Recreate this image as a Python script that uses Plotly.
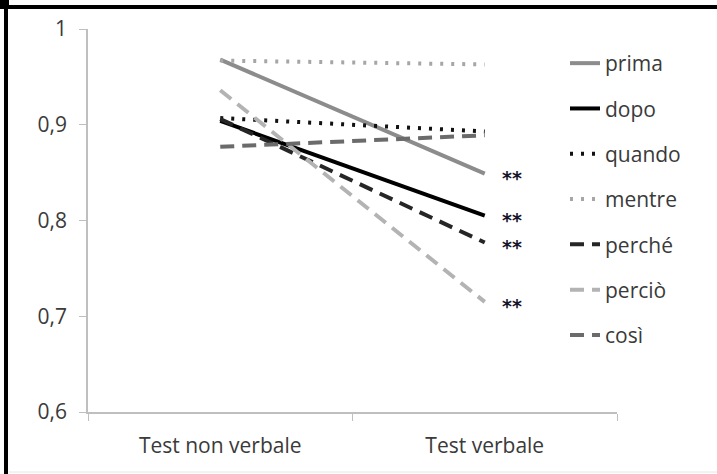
import plotly.graph_objects as go

categories = ["Test non verbale", "Test verbale"]
series_names = ["prima", "dopo", "quando", "mentre", "perché", "perciò", "così"]
nonverbal = [0.968, 0.904, 0.907, 0.967, 0.906, 0.936, 0.877]
verbal = [0.849, 0.805, 0.893, 0.963, 0.777, 0.715, 0.889]
significant = [True, True, False, False, True, True, False]

colors = ["#8c8c8c", "#000000", "#111111", "#a6a6a6", "#262626", "#b3b3b3", "#6b6b6b"]
dashes = ["solid", "solid", "3px,8px", "3px,8px", "14px,8px", "14px,8px", "14px,8px"]

W, H = 717, 474
L, R, T, B = 88, 100, 29, 62
pw, ph = W - L - R, H - T - B

def px(x):
    return (x - L) / pw

def py(y):
    return (H - B - y) / ph

font = "Open Sans"
fig = go.Figure()
for i, name in enumerate(series_names):
    fig.add_trace(go.Scatter(
        x=categories, y=[nonverbal[i], verbal[i]], name=name, mode="lines",
        line=dict(color=colors[i], width=4, dash=dashes[i]),
        legendgroup=name,
    ))
    if significant[i]:
        fig.add_annotation(x=categories[1], y=verbal[i], text="<b>**</b>", showarrow=False,
                           xshift=27, yshift=-4,
                           font=dict(family="DejaVu Sans", size=19, color="#15152a"))

shapes = [
    dict(type="rect", xref="paper", yref="paper", x0=px(4), x1=px(8), y0=py(H), y1=py(0),
         fillcolor="black", line=dict(width=0), layer="above"),
    dict(type="rect", xref="paper", yref="paper", x0=px(4), x1=px(W), y0=py(9), y1=py(5),
         fillcolor="black", line=dict(width=0), layer="above"),
    dict(type="rect", xref="paper", yref="paper", x0=px(0), x1=px(9), y0=py(9), y1=py(0),
         fillcolor="black", line=dict(width=0), layer="above"),
    dict(type="line", xref="paper", yref="paper", x0=px(9), x1=px(W), y0=py(472), y1=py(472),
         line=dict(color="#e6e6e6", width=1)),
]

fig.update_layout(
    width=W, height=H,
    margin=dict(l=L, r=R, t=T, b=B, autoexpand=False),
    paper_bgcolor="white", plot_bgcolor="white",
    separators=",.",
    font=dict(family=font, size=21, color="#3a3a3a"),
    showlegend=True,
    legend=dict(x=px(565), y=py(43), xanchor="left", yanchor="top",
                font=dict(family=font, size=21, color="#3a3a3a"),
                tracegroupgap=15, traceorder="grouped",
                bgcolor="rgba(0,0,0,0)"),
    shapes=shapes,
    xaxis=dict(type="category", range=[-0.5, 1.5], showline=True, linecolor="#bfbfbf",
               linewidth=1.5, ticks="outside", tickson="boundaries", ticklen=7,
               tickcolor="#bfbfbf", showgrid=False, zeroline=False, automargin=False,
               ticklabelstandoff=14,
               tickfont=dict(family=font, size=21, color="#3a3a3a")),
    yaxis=dict(range=[0.6, 1.0], tickvals=[0.6, 0.7, 0.8, 0.9, 1.0], showline=True,
               linecolor="#bfbfbf", linewidth=1.5, ticks="outside", ticklen=7,
               tickcolor="#bfbfbf", showgrid=False, zeroline=False, automargin=False,
               ticklabelstandoff=8,
               tickfont=dict(family=font, size=21, color="#3a3a3a")),
)

fig.write_html("out.html", config={"displayModeBar": False},
               post_script="document.body.style.margin='0';")
